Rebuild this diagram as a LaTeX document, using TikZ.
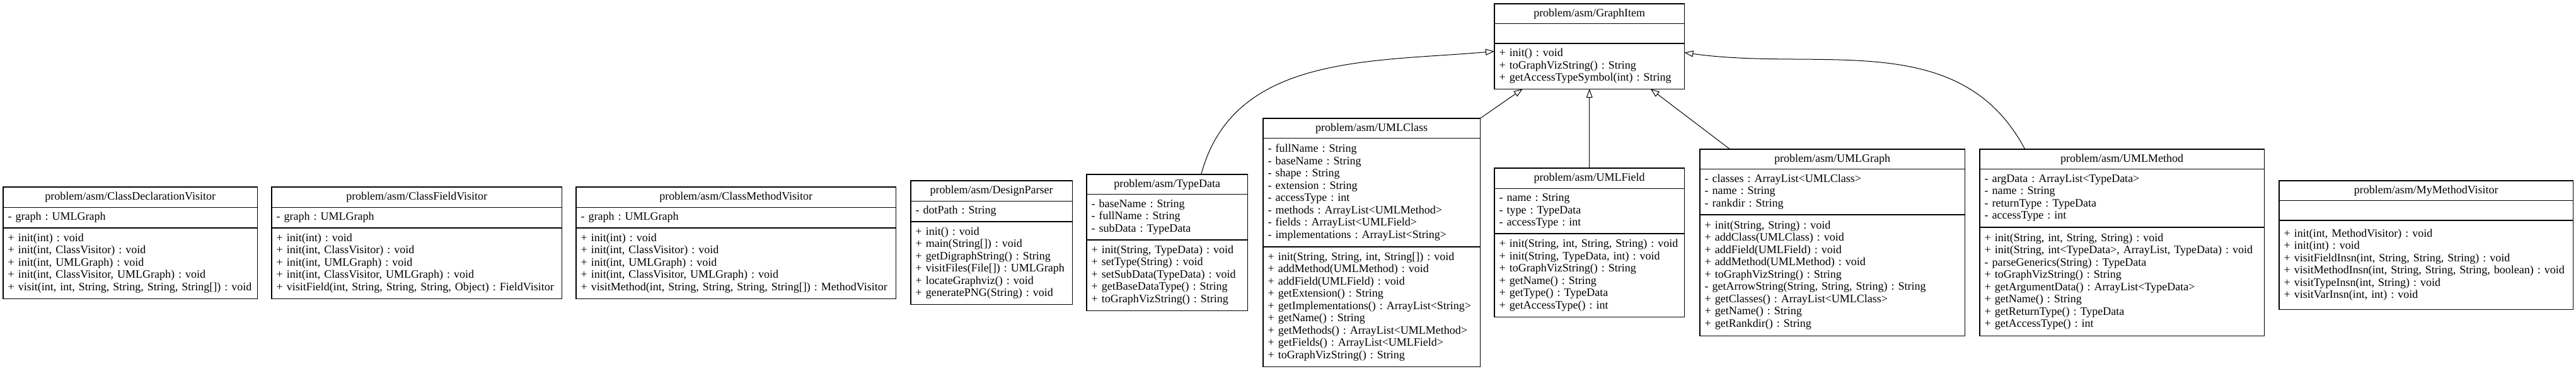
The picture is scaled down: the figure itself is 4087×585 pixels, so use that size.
\documentclass[tikz,border=0pt]{standalone}
\usepackage{fontspec}
\setmainfont{Liberation Serif}
\usetikzlibrary{arrows.meta}

\newcommand\umlfont{\fontsize{9pt}{9.75pt}\selectfont\frenchspacing\hyphenpenalty=10000\exhyphenpenalty=10000}
\tikzset{
  classname/.style={anchor=north west, inner sep=0pt, minimum height=15.5pt, font=\umlfont},
  classpart/.style={anchor=north west, align=left, inner xsep=3.5pt, inner ysep=0pt, font=\umlfont},
  inherit/.style={line width=0.5pt, -{Triangle[open,length=7pt,width=5pt]}},
}

\begin{document}
\begin{tikzpicture}[x=0.5pt, y=-0.5pt, line width=0.7pt]
    \useasboundingbox (0,0) rectangle (4087,585);

    % visitors and parser
    \node[classname, minimum width=201pt] (cdv) at (5,297) {problem/asm/ClassDeclarationVisitor};
    \node[classpart, text width=194pt, minimum height=15.5pt] (cdv-a) at (cdv.south west) {- graph : UMLGraph};
    \node[classpart, text width=194pt, minimum height=55.5pt] (cdv-m) at (cdv-a.south west)
        {+ init(int) : void\\+ init(int, ClassVisitor) : void\\+ init(int, UMLGraph) : void\\+ init(int, ClassVisitor, UMLGraph) : void\\+ visit(int, int, String, String, String, String[]) : void};

    \node[classname, minimum width=229.5pt] (cfv) at (431,297) {problem/asm/ClassFieldVisitor};
    \node[classpart, text width=222.5pt, minimum height=15.5pt] (cfv-a) at (cfv.south west) {- graph : UMLGraph};
    \node[classpart, text width=222.5pt, minimum height=55.5pt] (cfv-m) at (cfv-a.south west)
        {+ init(int) : void\\+ init(int, ClassVisitor) : void\\+ init(int, UMLGraph) : void\\+ init(int, ClassVisitor, UMLGraph) : void\\+ visitField(int, String, String, String, Object) : FieldVisitor};

    \node[classname, minimum width=253pt] (cmv) at (914,297) {problem/asm/ClassMethodVisitor};
    \node[classpart, text width=246pt, minimum height=15.5pt] (cmv-a) at (cmv.south west) {- graph : UMLGraph};
    \node[classpart, text width=246pt, minimum height=55.5pt] (cmv-m) at (cmv-a.south west)
        {+ init(int) : void\\+ init(int, ClassVisitor) : void\\+ init(int, UMLGraph) : void\\+ init(int, ClassVisitor, UMLGraph) : void\\+ visitMethod(int, String, String, String, String[]) : MethodVisitor};

    \node[classname, minimum width=127.5pt] (dp) at (1445,287) {problem/asm/DesignParser};
    \node[classpart, text width=120.5pt, minimum height=15.5pt] (dp-a) at (dp.south west) {- dotPath : String};
    \node[classpart, text width=120.5pt, minimum height=65pt] (dp-m) at (dp-a.south west)
        {+ init() : void\\+ main(String[]) : void\\+ getDigraphString() : String\\+ visitFiles(File[]) : UMLGraph\\+ locateGraphviz() : void\\+ generatePNG(String) : void};

    % graph items
    \node[classname, minimum width=150pt, minimum height=15pt] (gi) at (2371,6) {problem/asm/GraphItem};
    \node[classpart, text width=143pt, minimum height=15pt] (gi-a) at (gi.south west) {};
    \node[classpart, text width=143pt, minimum height=35.5pt] (gi-m) at (gi-a.south west)
        {+ init() : void\\+ toGraphVizString() : String\\+ getAccessTypeSymbol(int) : String};

    \node[classname, minimum width=127pt, minimum height=15pt] (td) at (1724,277) {problem/asm/TypeData};
    \node[classpart, text width=120pt, minimum height=35.5pt] (td-a) at (td.south west)
        {- baseName : String\\- fullName : String\\- subData : TypeData};
    \node[classpart, text width=120pt, minimum height=55.5pt] (td-m) at (td-a.south west)
        {+ init(String, TypeData) : void\\+ setType(String) : void\\+ setSubData(TypeData) : void\\+ getBaseDataType() : String\\+ toGraphVizString() : String};

    \node[classname, minimum width=171.5pt, minimum height=15pt] (uc) at (2004,188) {problem/asm/UMLClass};
    \node[classpart, text width=164.5pt, minimum height=85.5pt] (uc-a) at (uc.south west)
        {- fullName : String\\- baseName : String\\- shape : String\\- extension : String\\- accessType : int\\- methods : ArrayList<UMLMethod>\\- fields : ArrayList<UMLField>\\- implementations : ArrayList<String>};
    \node[classpart, text width=164.5pt, minimum height=94.5pt] (uc-m) at (uc-a.south west)
        {+ init(String, String, int, String[]) : void\\+ addMethod(UMLMethod) : void\\+ addField(UMLField) : void\\+ getExtension() : String\\+ getImplementations() : ArrayList<String>\\+ getName() : String\\+ getMethods() : ArrayList<UMLMethod>\\+ getFields() : ArrayList<UMLField>\\+ toGraphVizString() : String};

    \node[classname, minimum width=150pt] (uf) at (2371,267) {problem/asm/UMLField};
    \node[classpart, text width=143pt, minimum height=35pt] (uf-a) at (uf.south west)
        {- name : String\\- type : TypeData\\- accessType : int};
    \node[classpart, text width=143pt, minimum height=65.5pt] (uf-m) at (uf-a.south west)
        {+ init(String, int, String, String) : void\\+ init(String, TypeData, int) : void\\+ toGraphVizString() : String\\+ getName() : String\\+ getType() : TypeData\\+ getAccessType() : int};

    \node[classname, minimum width=209.5pt, minimum height=15pt] (ug) at (2697,237) {problem/asm/UMLGraph};
    \node[classpart, text width=202.5pt, minimum height=35.5pt] (ug-a) at (ug.south west)
        {- classes : ArrayList<UMLClass>\\- name : String\\- rankdir : String};
    \node[classpart, text width=202.5pt, minimum height=95.5pt] (ug-m) at (ug-a.south west)
        {+ init(String, String) : void\\+ addClass(UMLClass) : void\\+ addField(UMLField) : void\\+ addMethod(UMLMethod) : void\\+ toGraphVizString() : String\\- getArrowString(String, String, String) : String\\+ getClasses() : ArrayList<UMLClass>\\+ getName() : String\\+ getRankdir() : String};

    \node[classname, minimum width=225pt, minimum height=15pt] (um) at (3141,237) {problem/asm/UMLMethod};
    \node[classpart, text width=218pt, minimum height=45.5pt] (um-a) at (um.south west)
        {- argData : ArrayList<TypeData>\\- name : String\\- returnType : TypeData\\- accessType : int};
    \node[classpart, text width=218pt, minimum height=85.5pt] (um-m) at (um-a.south west)
        {+ init(String, int, String, String) : void\\+ init(String, int<TypeData>, ArrayList, TypeData) : void\\- parseGenerics(String) : TypeData\\+ toGraphVizString() : String\\+ getArgumentData() : ArrayList<TypeData>\\+ getName() : String\\+ getReturnType() : TypeData\\+ getAccessType() : int};

    \node[classname, minimum width=232.5pt, minimum height=15pt] (mmv) at (3616,287) {problem/asm/MyMethodVisitor};
    \node[classpart, text width=225.5pt, minimum height=15pt] (mmv-a) at (mmv.south west) {};
    \node[classpart, text width=225.5pt, minimum height=70pt] (mmv-m) at (mmv-a.south west)
        {+ init(int, MethodVisitor) : void\\+ init(int) : void\\+ visitFieldInsn(int, String, String, String) : void\\+ visitMethodInsn(int, String, String, String, boolean) : void\\+ visitTypeInsn(int, String) : void\\+ visitVarInsn(int, int) : void};

    % outlines and compartment lines
    \foreach \c in {cdv,cfv,cmv,dp,gi,td,uc,uf,ug,um,mmv}
        \draw (\c.north west) rectangle (\c-m.south east)
              (\c.south west) -- (\c.south east)
              (\c-a.south west) -- (\c-a.south east);

    % inheritance
    \draw[inherit] ([xshift=27pt]td.north) to[out=75, in=185] ([yshift=11.75pt]gi-m.west);
    \draw[inherit] (uc.north east) -- ([xshift=-53pt]gi-m.south);
    \draw[inherit] (uf.north) -- (gi-m.south);
    \draw[inherit] ([xshift=-81.25pt]ug.north) -- ([xshift=48.5pt]gi-m.south);
    \draw[inherit] ([xshift=-77pt]um.north) to[out=118, in=-8] ([yshift=10.75pt]gi-m.east);
\end{tikzpicture}
\end{document}
